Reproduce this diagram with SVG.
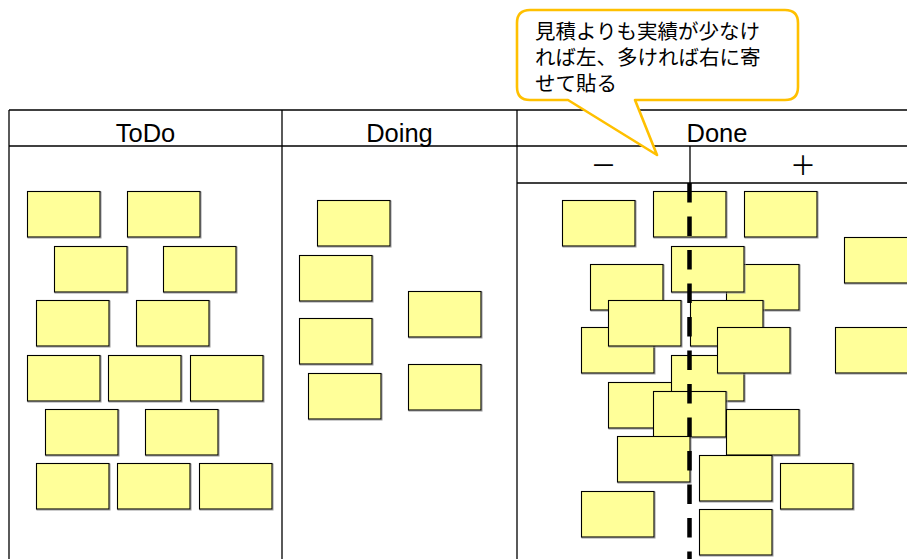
<svg xmlns="http://www.w3.org/2000/svg" xmlns:xlink="http://www.w3.org/1999/xlink" width="907" height="559" viewBox="0 0 907 559">
<style>
.ln{stroke:#000;stroke-width:1.3;fill:none}
.hd{font-family:"Liberation Sans",Arial,sans-serif;font-size:25.5px;fill:#000;text-anchor:middle}
.pm{font-family:"Noto Sans CJK JP",sans-serif;font-size:26px;fill:#000;text-anchor:middle}
.s{fill:#FFFF99;stroke:#000;stroke-width:1.1}
.sh{fill:none;stroke:#999;stroke-width:1}
.co{fill:#fff;stroke:#FFC000;stroke-width:2.6;stroke-linejoin:round}
.ct{font-family:"Noto Sans CJK JP",sans-serif;font-size:20.5px;fill:#000}
</style>
<defs>
<g id="note"><rect class="sh" x="1" y="1" width="73" height="46"/><rect class="s" x="0.5" y="0.5" width="72.5" height="45.5"/></g>
</defs>
<rect width="907" height="559" fill="#fff"/>
<g id="board">
<line class="ln" x1="9" y1="110" x2="907" y2="110"/>
<line class="ln" x1="9" y1="146" x2="907" y2="146"/>
<line class="ln" x1="517" y1="183" x2="907" y2="183"/>
<line class="ln" x1="9" y1="110" x2="9" y2="559"/>
<line class="ln" x1="282" y1="110" x2="282" y2="559"/>
<line class="ln" x1="517" y1="110" x2="517" y2="559"/>
<line class="ln" x1="690" y1="146" x2="690" y2="183"/>
<text class="hd" x="145.5" y="141.5">ToDo</text>
<text class="hd" x="399.5" y="141.5">Doing</text>
<text class="hd" x="717" y="141.5">Done</text>
<text class="pm" x="603.5" y="175">－</text>
<text class="pm" x="803" y="175">＋</text>
</g>
<g id="todo">
<use id="t1" xlink:href="#note" x="27" y="191"/>
<use id="t2" xlink:href="#note" x="127" y="191"/>
<use id="t3" xlink:href="#note" x="54" y="246"/>
<use id="t4" xlink:href="#note" x="163" y="246"/>
<use id="t5" xlink:href="#note" x="36" y="300"/>
<use id="t6" xlink:href="#note" x="136" y="300"/>
<use id="t7" xlink:href="#note" x="27" y="355"/>
<use id="t8" xlink:href="#note" x="108" y="355"/>
<use id="t9" xlink:href="#note" x="190" y="355"/>
<use id="t10" xlink:href="#note" x="45" y="409"/>
<use id="t11" xlink:href="#note" x="145" y="409"/>
<use id="t12" xlink:href="#note" x="36" y="463"/>
<use id="t13" xlink:href="#note" x="117" y="463"/>
<use id="t14" xlink:href="#note" x="199" y="463"/>
</g>
<g id="doing">
<use id="g1" xlink:href="#note" x="317" y="200"/>
<use id="g2" xlink:href="#note" x="299" y="255"/>
<use id="g3" xlink:href="#note" x="408" y="291"/>
<use id="g4" xlink:href="#note" x="299" y="318"/>
<use id="g5" xlink:href="#note" x="408" y="364"/>
<use id="g6" xlink:href="#note" x="308" y="373"/>
</g>
<g id="done">
<use id="dA" xlink:href="#note" x="562" y="200"/>
<use id="dB" xlink:href="#note" x="653" y="191"/>
<use id="dC" xlink:href="#note" x="744" y="191"/>
<use id="dD" xlink:href="#note" x="844" y="237"/>
<use id="dE" xlink:href="#note" x="590" y="264"/>
<use id="dG" xlink:href="#note" x="726" y="264"/>
<use id="dF" xlink:href="#note" x="671" y="246"/>
<use id="dJ" xlink:href="#note" x="581" y="327"/>
<use id="dH" xlink:href="#note" x="608" y="300"/>
<use id="dI" xlink:href="#note" x="690" y="300"/>
<use id="dL" xlink:href="#note" x="835" y="327"/>
<use id="dN" xlink:href="#note" x="608" y="382"/>
<use id="dM" xlink:href="#note" x="671" y="355"/>
<use id="dK" xlink:href="#note" x="717" y="327"/>
<use id="dO" xlink:href="#note" x="653" y="391"/>
<use id="dP" xlink:href="#note" x="726" y="409"/>
<use id="dQ" xlink:href="#note" x="617" y="436"/>
<use id="dR" xlink:href="#note" x="699" y="455"/>
<use id="dS" xlink:href="#note" x="780" y="463"/>
<use id="dT" xlink:href="#note" x="581" y="491"/>
<use id="dU" xlink:href="#note" x="699" y="509"/>
</g>
<g id="connectors">
<line x1="689.5" y1="183" x2="689.5" y2="559" stroke="#000" stroke-width="4.5" stroke-dasharray="19.5 14"/>
</g>
<g id="callout">
<path class="co" d="M530,10 H785 Q798,10 798,23 V87 Q798,100 785,100 H635 L657,155 L568,100 H530 Q517,100 517,87 V23 Q517,10 530,10 Z"/>
<text class="ct" x="535" y="38.5">見積よりも実績が少なけ</text>
<text class="ct" x="535" y="64.5">れば左、多ければ右に寄</text>
<text class="ct" x="535" y="90.5">せて貼る</text>
</g>
</svg>
